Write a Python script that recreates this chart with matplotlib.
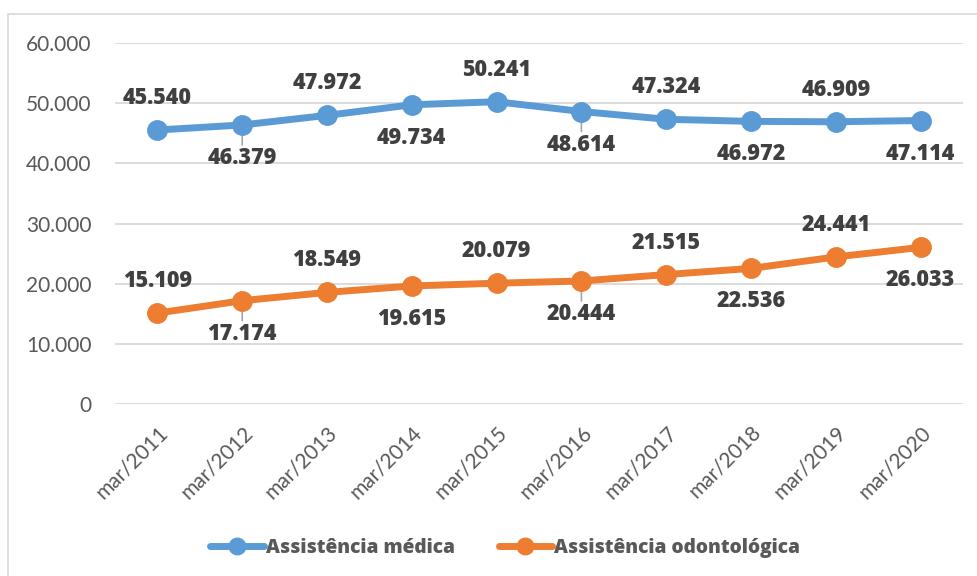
import matplotlib
matplotlib.use("Agg")
import matplotlib.pyplot as plt
from matplotlib.patches import Rectangle

categories = ["mar/2011", "mar/2012", "mar/2013", "mar/2014", "mar/2015",
              "mar/2016", "mar/2017", "mar/2018", "mar/2019", "mar/2020"]
medica = [45540, 46379, 47972, 49734, 50241, 48614, 47324, 46972, 46909, 47114]
odonto = [15109, 17174, 18549, 19615, 20079, 20444, 21515, 22536, 24441, 26033]
medica_labels = ["45.540", "46.379", "47.972", "49.734", "50.241",
                 "48.614", "47.324", "46.972", "46.909", "47.114"]
odonto_labels = ["15.109", "17.174", "18.549", "19.615", "20.079",
                 "20.444", "21.515", "22.536", "24.441", "26.033"]
yticks = [0, 10000, 20000, 30000, 40000, 50000, 60000]
ytick_labels = ["0", "10.000", "20.000", "30.000", "40.000", "50.000", "60.000"]
series_names = ["Assistência médica", "Assistência odontológica"]

plt.rcParams['font.family'] = ['Lato', 'DejaVu Sans']
BOLD = ['Open Sans', 'DejaVu Sans']

W, H = 977, 576
fig = plt.figure(figsize=(W / 100, H / 100), dpi=100)
fig.patch.set_facecolor("white")

# outer chart border
fig.patches.append(Rectangle((8 / W, -0.05), 1.1, 1 - 14 / H + 0.05,
                             transform=fig.transFigure, fill=False,
                             edgecolor="#D9D9D9", linewidth=1.2))

ax = fig.add_axes([115 / W, 1 - 404 / H, (963 - 115) / W, (404 - 43) / H])
x = list(range(len(categories)))
blue = "#5B9BD5"
orange = "#ED7D31"
ax.plot(x, medica, color=blue, linewidth=5, marker="o", markersize=14,
        solid_capstyle="round", label=series_names[0], zorder=3)
ax.plot(x, odonto, color=orange, linewidth=5, marker="o", markersize=14,
        solid_capstyle="round", label=series_names[1], zorder=3)

ax.set_xlim(-0.5, len(categories) - 0.5)
ax.set_ylim(0, 60000)
ax.set_yticks(yticks)
ax.set_yticklabels(ytick_labels)
ax.set_xticks(x)
ax.set_xticklabels(categories, rotation=45, ha="right", rotation_mode="anchor")
ax.grid(axis="y", color="#D9D9D9", linewidth=1.3)
ax.set_axisbelow(True)
for s in ax.spines.values():
    s.set_visible(False)
ax.tick_params(axis="both", length=0, labelsize=15, colors="#595959")
ax.tick_params(axis="y", pad=17)
ax.tick_params(axis="x", pad=13)

leader_idx = {1, 5}

def label_series(vals, labels):
    for i, (v, t) in enumerate(zip(vals, labels)):
        dy = 32 if i % 2 == 0 else -33
        ax.annotate(t, (i, v), xytext=(0, dy), textcoords="offset pixels",
                    ha="center", va="center", fontsize=15.5, fontweight=800,
                    family=BOLD, color="#404040", zorder=4)
        if i in leader_idx:
            ax.annotate("", (i, v), xytext=(0, -20), textcoords="offset pixels",
                        arrowprops=dict(arrowstyle="-", color="#A6A6A6", lw=1.2,
                                        shrinkA=0, shrinkB=0), zorder=2)

label_series(medica, medica_labels)
label_series(odonto, odonto_labels)

leg = fig.legend(loc="center", bbox_to_anchor=(0.517, 1 - 548 / H), ncol=2,
                 frameon=False, handlelength=2.8, handletextpad=0.1,
                 columnspacing=2.3, markerscale=0.85,
                 prop=dict(size=13.8, weight=800, family=BOLD))
for t in leg.get_texts():
    t.set_color("#595959")

fig.savefig("out.png", dpi=100)
